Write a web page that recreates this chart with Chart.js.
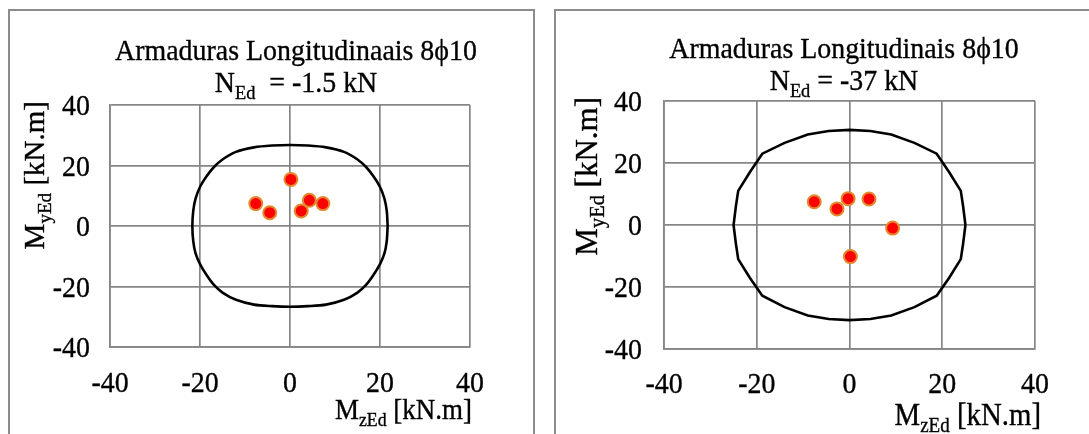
<!DOCTYPE html>
<html>
<head>
<meta charset="utf-8">
<script src="https://cdn.jsdelivr.net/npm/chart.js@4.4.0/dist/chart.umd.min.js"></script>
<style>
  html, body { margin: 0; padding: 0; background: #fff; }
  body { width: 1089px; height: 434px; position: relative; overflow: hidden; }
  .frame { position: absolute; top: 9px; height: 440px; border: 2px solid #8c8c8c; box-sizing: border-box; }
  canvas { position: absolute; top: 0; }
</style>
</head>
<body>
<div class="frame" style="left:8px; width:527px;"></div>
<div class="frame" style="left:554px; width:560px;"></div>
<canvas id="left" width="545" height="434" style="left:0"></canvas>
<canvas id="right" width="544" height="434" style="left:545px"></canvas>
<script>
// axis ticks (both charts, both axes)
const axisTicks = [-40, -20, 0, 20, 40];

// N = -1.5 kN : design moments and resistance envelope
const leftLoadMz = [0.2, -7.6, -4.5, 2.5, 4.3, 7.3];
const leftLoadMy = [15.4, 7.4, 4.4, 5.0, 8.5, 7.4];
const leftEnvMz = [21.7, 21.5, 21.0, 20.0, 18.5, 16.9, 15.0, 12.0, 8.0, 4.0, 0, -4.0, -8.0, -12.0, -15.0, -16.9, -18.5, -20.0, -21.0, -21.5, -21.7,
                   -21.5, -21.0, -20.0, -18.5, -16.9, -15.0, -12.0, -8.0, -4.0, 0, 4.0, 8.0, 12.0, 15.0, 16.9, 18.5, 20.0, 21.0, 21.5, 21.7];
const leftEnvMy = [0, 5.0, 9.0, 12.9, 16.5, 19.5, 22.0, 24.5, 26.0, 26.6, 26.8, 26.6, 26.0, 24.5, 22.0, 19.5, 16.5, 12.9, 9.0, 5.0, 0,
                   -5.0, -9.0, -12.6, -16.3, -19.5, -22.0, -24.4, -26.0, -26.5, -26.7, -26.5, -26.0, -24.4, -22.0, -19.5, -16.3, -12.6, -9.0, -5.0, 0];

// N = -37 kN
const rightLoadMz = [-7.6, -2.7, -0.3, 4.2, 9.3, 0.2];
const rightLoadMy = [7.5, 5.2, 8.5, 8.4, -1.0, -10.2];
const rightEnvMz = [25.0, 24.5, 24.0, 21.5, 18.8, 14.0, 9.0, 4.5, 0, -4.5, -9.0, -14.0, -18.8, -21.5, -24.0, -24.5, -25.0,
                    -24.5, -24.0, -21.5, -18.8, -14.0, -9.0, -4.5, 0, 4.5, 9.0, 14.0, 18.8, 21.5, 24.0, 24.5, 25.0];
const rightEnvMy = [0, 6.0, 11.0, 17.0, 23.0, 26.5, 29.2, 30.3, 30.7, 30.3, 29.2, 26.5, 23.0, 17.0, 11.0, 6.0, 0,
                    -6.0, -11.0, -17.0, -22.8, -26.5, -29.2, -30.3, -30.7, -30.3, -29.2, -26.5, -22.8, -17.0, -11.0, -6.0, 0];

const leftTitle = 'Armaduras Longitudinaais 8\u03D510';
const leftForce = '  = -1.5 kN';
const rightTitle = 'Armaduras Longitudinais 8\u03D510';
const rightForce = ' = -37 kN';

const FONT = '"Liberation Serif", "Times New Roman", serif';
const GRID = '#868686';
const SX = 0.93; // text in the picture is a little narrow

function pts(xs, ys) {
    return xs.map((x, i) => ({ x: x, y: ys[i] }));
}

// draws runs of text (some subscript) around an anchor, squeezed by sx along the line
function drawRich(ctx, parts, x, y, size, align, sx, rot) {
    let w = 0;
    parts.forEach(p => {
        ctx.font = (p.sub ? size * 0.66 : size) + 'px ' + FONT;
        w += ctx.measureText(p.text).width;
    });
    ctx.save();
    ctx.translate(x, y);
    if (rot) ctx.rotate(rot);
    ctx.scale(sx, 1);
    let cx = align === 'center' ? -w / 2 : (align === 'right' ? -w : 0);
    ctx.textAlign = 'left';
    ctx.textBaseline = 'alphabetic';
    ctx.strokeStyle = '#000';
    ctx.lineWidth = 0.35;
    parts.forEach(p => {
        ctx.font = (p.sub ? size * 0.66 : size) + 'px ' + FONT;
        const ty = p.sub ? size * 0.24 : 0;
        ctx.fillText(p.text, cx, ty);
        ctx.strokeText(p.text, cx, ty);
        cx += ctx.measureText(p.text).width;
    });
    ctx.restore();
}

// tick labels, titles and axis titles
const richLabels = {
    id: 'richLabels',
    afterDraw(chart, args, o) {
        const ctx = chart.ctx;
        const a = chart.chartArea;
        const xs = chart.scales.x, ys = chart.scales.y;
        ctx.save();
        ctx.fillStyle = '#000';
        xs.ticks.forEach(t => {
            drawRich(ctx, [{ text: t.label }], xs.getPixelForValue(t.value), o.xTickY + 0.34 * o.tickSize, o.tickSize, 'center', SX);
        });
        ys.ticks.forEach(t => {
            drawRich(ctx, [{ text: t.label }], a.left - o.yPad, ys.getPixelForValue(t.value) + 0.34 * o.tickSize, o.tickSize, 'right', SX);
        });
        drawRich(ctx, [{ text: o.title }], o.titleX, o.line1Y, o.titleSize, 'center', SX);
        drawRich(ctx, [{ text: 'N' }, { text: 'Ed', sub: true }, { text: o.force }], o.titleX, o.line2Y, o.titleSize, 'center', SX);
        drawRich(ctx, [{ text: 'M' }, { text: 'zEd', sub: true }, { text: ' [kN.m]' }], a.right + o.xTitleDx, o.xTitleY, o.axisSize, 'right', SX);
        drawRich(ctx, [{ text: 'M' }, { text: 'yEd', sub: true }, { text: ' [kN.m]' }], o.yTitleX, a.top - 4, o.axisSize, 'right', 1, -Math.PI / 2);
        ctx.restore();
    }
};

function makeChart(id, load, env, tension, lay) {
    const axis = fit => ({
        type: 'linear',
        min: axisTicks[0],
        max: axisTicks[axisTicks.length - 1],
        ticks: { stepSize: axisTicks[1] - axisTicks[0], display: false },
        grid: { color: GRID, lineWidth: 1.7, drawTicks: false },
        border: { display: true, color: GRID, width: 1.7 },
        afterFit: fit
    });
    return new Chart(document.getElementById(id), {
        type: 'scatter',
        data: {
            datasets: [
                {
                    data: load,
                    pointRadius: 6.5,
                    pointBackgroundColor: '#ff0000',
                    pointBorderColor: '#e38a2e',
                    pointBorderWidth: 2
                },
                {
                    data: env,
                    showLine: true,
                    pointRadius: 0,
                    borderColor: '#000',
                    borderWidth: 2.6,
                    tension: tension,
                    fill: false
                }
            ]
        },
        options: {
            responsive: false,
            animation: false,
            devicePixelRatio: 1,
            layout: { padding: lay.padding },
            scales: {
                x: axis(s => { s.height = lay.xHeight; }),
                y: axis(s => { s.width = lay.yWidth; })
            },
            plugins: {
                legend: { display: false },
                tooltip: { enabled: false },
                richLabels: lay.labels
            }
        },
        plugins: [richLabels]
    });
}

makeChart('left', pts(leftLoadMz, leftLoadMy), pts(leftEnvMz, leftEnvMy), 0.3, {
    padding: { left: 0, right: 75, top: 105, bottom: 0 },
    xHeight: 87, yWidth: 110,
    labels: { title: leftTitle, force: leftForce, titleX: 296, line1Y: 60, line2Y: 92, titleSize: 30,
              tickSize: 30, xTickY: 382, yPad: 20,
              axisSize: 29, xTitleDx: 2, xTitleY: 419, yTitleX: 44 }
});

makeChart('right', pts(rightLoadMz, rightLoadMy), pts(rightEnvMz, rightEnvMy), 0, {
    padding: { left: 0, right: 54, top: 101, bottom: 0 },
    xHeight: 85, yWidth: 119,
    labels: { title: rightTitle, force: rightForce, titleX: 299, line1Y: 58, line2Y: 90, titleSize: 30,
              tickSize: 30, xTickY: 383, yPad: 22,
              axisSize: 31, xTitleDx: 6, xTitleY: 425, yTitleX: 52 }
});
</script>
</body>
</html>
